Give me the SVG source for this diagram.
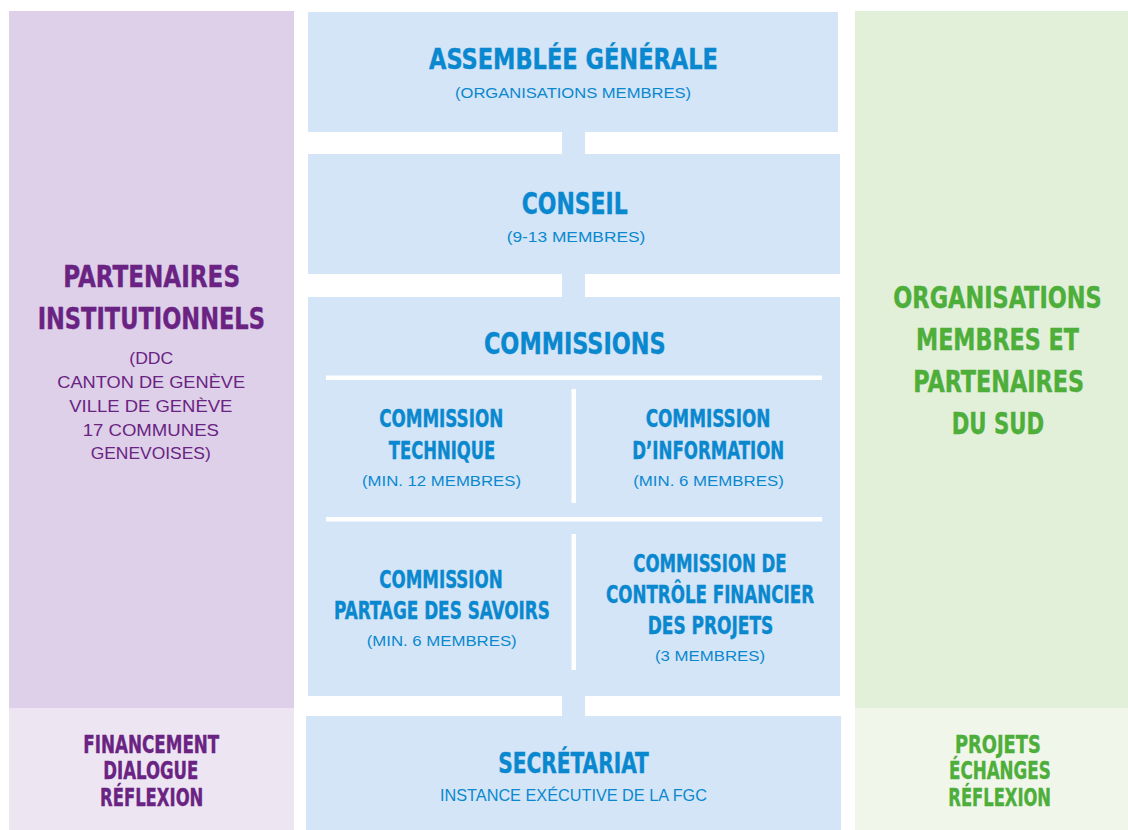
<svg xmlns="http://www.w3.org/2000/svg" width="1128" height="830" viewBox="0 0 1128 830">
  <style>
    text { text-anchor: middle; font-family: "Liberation Sans Narrow", "DejaVu Sans Condensed", "Liberation Sans", Arial, sans-serif; }
    .h { font-weight: bold; stroke-width: 0.4; }
    .s { font-weight: normal; font-family: "Liberation Sans", Arial, sans-serif; }
    .blue { fill: #0a88cf; stroke: #0a88cf; }
    .purple { fill: #6a2383; stroke: #6a2383; }
    .green { fill: #4dae3a; stroke: #4dae3a; }
    .s.blue, .s.purple, .s.green { stroke: none; }
    .box { fill: #d3e5f6; }
    .sep { fill: #ffffff; }
  </style>
  <rect width="1128" height="830" fill="#ffffff"/>

  <!-- institutional partners column -->
  <g id="partenaires">
    <rect x="9" y="11" width="285" height="697" fill="#ddd0e8"/>
    <text class="h purple" x="151.7" y="286.7" font-size="30" textLength="176.7" lengthAdjust="spacingAndGlyphs">PARTENAIRES</text>
    <text class="h purple" x="151.3" y="329" font-size="30" textLength="227.3" lengthAdjust="spacingAndGlyphs">INSTITUTIONNELS</text>
    <text class="s purple" x="151.3" y="364.3" font-size="17" textLength="44" lengthAdjust="spacingAndGlyphs">(DDC</text>
    <text class="s purple" x="151.2" y="388.3" font-size="17" textLength="187.7" lengthAdjust="spacingAndGlyphs">CANTON DE GENÈVE</text>
    <text class="s purple" x="150.8" y="412.3" font-size="17" textLength="163" lengthAdjust="spacingAndGlyphs">VILLE DE GENÈVE</text>
    <text class="s purple" x="150.8" y="435.5" font-size="17" textLength="136.3" lengthAdjust="spacingAndGlyphs">17 COMMUNES</text>
    <text class="s purple" x="150.7" y="459.3" font-size="17" textLength="120" lengthAdjust="spacingAndGlyphs">GENEVOISES)</text>
  </g>
  <g id="partenaires-roles">
    <rect x="9" y="708" width="285" height="122" fill="#ede6f2"/>
    <text class="h purple" x="151.3" y="752.7" font-size="24.5" textLength="136" lengthAdjust="spacingAndGlyphs">FINANCEMENT</text>
    <text class="h purple" x="150.8" y="779.3" font-size="24.5" textLength="95" lengthAdjust="spacingAndGlyphs">DIALOGUE</text>
    <text class="h purple" x="151.7" y="806" font-size="24.5" textLength="103.3" lengthAdjust="spacingAndGlyphs">RÉFLEXION</text>
  </g>

  <!-- member organisations column -->
  <g id="organisations">
    <rect x="855" y="11" width="273" height="697" fill="#e2efd9"/>
    <text class="h green" transform="translate(997.5 308.3) scale(0.8 1)" x="0" y="0" font-size="30" textLength="260.5" lengthAdjust="spacingAndGlyphs">ORGANISATIONS</text>
    <text class="h green" x="997.5" y="350.3" font-size="30" textLength="163" lengthAdjust="spacingAndGlyphs">MEMBRES ET</text>
    <text class="h green" x="998.7" y="392.3" font-size="30" textLength="170.7" lengthAdjust="spacingAndGlyphs">PARTENAIRES</text>
    <text class="h green" x="997.9" y="434.3" font-size="30" textLength="92.3" lengthAdjust="spacingAndGlyphs">DU SUD</text>
  </g>
  <g id="organisations-roles">
    <rect x="855" y="708" width="273" height="122" fill="#f0f6ea"/>
    <text class="h green" x="997.9" y="752.7" font-size="24.5" textLength="85.7" lengthAdjust="spacingAndGlyphs">PROJETS</text>
    <text class="h green" x="999.9" y="779.2" font-size="24.5" textLength="101.7" lengthAdjust="spacingAndGlyphs">ÉCHANGES</text>
    <text class="h green" x="999.7" y="806" font-size="24.5" textLength="102.7" lengthAdjust="spacingAndGlyphs">RÉFLEXION</text>
  </g>

  <!-- links between the central bodies -->
  <g id="connectors">
    <rect class="box" x="562" y="131" width="23" height="24"/>
    <rect class="box" x="562" y="273" width="23" height="25"/>
    <rect class="box" x="562" y="695" width="23" height="22"/>
  </g>

  <g id="assemblee">
    <rect class="box" x="308" y="12" width="530" height="120"/>
    <text class="h blue" x="573.5" y="69" font-size="29" textLength="289" lengthAdjust="spacingAndGlyphs">ASSEMBLÉE GÉNÉRALE</text>
    <text class="s blue" x="573" y="98" font-size="15" textLength="236" lengthAdjust="spacingAndGlyphs">(ORGANISATIONS MEMBRES)</text>
  </g>

  <g id="conseil">
    <rect class="box" x="308" y="154" width="532" height="120"/>
    <text class="h blue" x="574.7" y="214.3" font-size="30" textLength="106" lengthAdjust="spacingAndGlyphs">CONSEIL</text>
    <text class="s blue" x="576" y="241.7" font-size="15" textLength="138.6" lengthAdjust="spacingAndGlyphs">(9-13 MEMBRES)</text>
  </g>

  <g id="commissions">
    <rect class="box" x="308" y="297" width="532" height="399"/>
    <text class="h blue" x="574.8" y="354.3" font-size="30" textLength="181.7" lengthAdjust="spacingAndGlyphs">COMMISSIONS</text>
    <rect class="sep" x="326" y="375.5" width="496" height="4.5"/>
    <rect class="sep" x="326" y="517" width="496" height="4.5"/>
    <rect class="sep" x="571.5" y="389" width="4.5" height="114"/>
    <rect class="sep" x="571.5" y="534" width="4.5" height="136"/>
  </g>

  <g id="commission-technique">
    <text class="h blue" x="441.2" y="426.7" font-size="24" textLength="124" lengthAdjust="spacingAndGlyphs">COMMISSION</text>
    <text class="h blue" x="442" y="459.3" font-size="24" textLength="106.4" lengthAdjust="spacingAndGlyphs">TECHNIQUE</text>
    <text class="s blue" x="441.5" y="485.7" font-size="15" textLength="159" lengthAdjust="spacingAndGlyphs">(MIN. 12 MEMBRES)</text>
  </g>

  <g id="commission-information">
    <text class="h blue" x="708" y="426.7" font-size="24" textLength="124.7" lengthAdjust="spacingAndGlyphs">COMMISSION</text>
    <text class="h blue" x="708.2" y="459.3" font-size="24" textLength="151.9" lengthAdjust="spacingAndGlyphs">D’INFORMATION</text>
    <text class="s blue" x="708.5" y="485.7" font-size="15" textLength="150.5" lengthAdjust="spacingAndGlyphs">(MIN. 6 MEMBRES)</text>
  </g>

  <g id="commission-partage">
    <text class="h blue" x="441" y="587.7" font-size="24" textLength="123.4" lengthAdjust="spacingAndGlyphs">COMMISSION</text>
    <text class="h blue" x="442" y="619.3" font-size="24" textLength="216" lengthAdjust="spacingAndGlyphs">PARTAGE DES SAVOIRS</text>
    <text class="s blue" x="441.7" y="646" font-size="15" textLength="150" lengthAdjust="spacingAndGlyphs">(MIN. 6 MEMBRES)</text>
  </g>

  <g id="commission-controle">
    <text class="h blue" x="710" y="571.7" font-size="24" textLength="153.4" lengthAdjust="spacingAndGlyphs">COMMISSION DE</text>
    <text class="h blue" x="710" y="603.3" font-size="24" textLength="208" lengthAdjust="spacingAndGlyphs">CONTRÔLE FINANCIER</text>
    <text class="h blue" x="710.5" y="634.3" font-size="24" textLength="125.6" lengthAdjust="spacingAndGlyphs">DES PROJETS</text>
    <text class="s blue" x="710" y="660.7" font-size="15" textLength="110" lengthAdjust="spacingAndGlyphs">(3 MEMBRES)</text>
  </g>

  <g id="secretariat">
    <rect class="box" x="306" y="716" width="535" height="114"/>
    <text class="h blue" x="573.5" y="773.3" font-size="28" textLength="150.4" lengthAdjust="spacingAndGlyphs">SECRÉTARIAT</text>
    <text class="s blue" x="573.5" y="800.7" font-size="17" textLength="267" lengthAdjust="spacingAndGlyphs">INSTANCE EXÉCUTIVE DE LA FGC</text>
  </g>
</svg>
